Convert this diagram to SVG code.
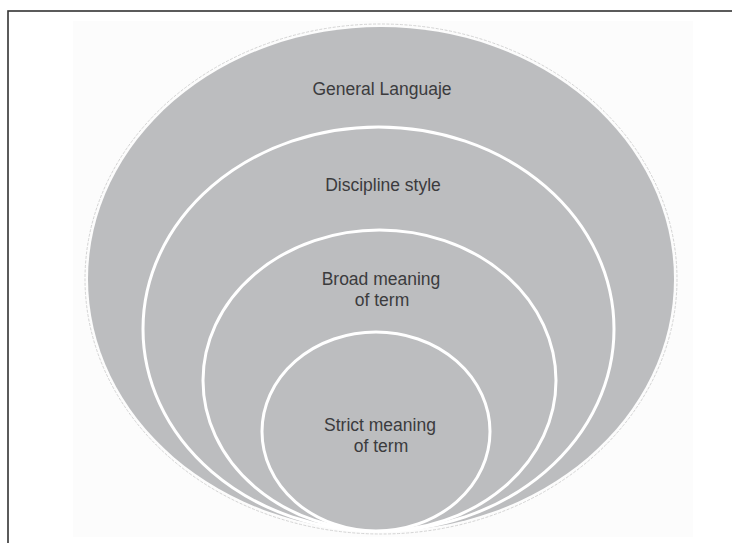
<svg xmlns="http://www.w3.org/2000/svg" width="732" height="543" viewBox="0 0 732 543">
  <style>
    .ring { fill: #bcbdbf; stroke: #ffffff; stroke-width: 3; }
    .outer { fill: #bcbdbf; stroke: none; }
    .halo { fill: none; stroke: #d4d4d4; stroke-width: 1; stroke-dasharray: 3 1.5; }
    .label { font-family: "Liberation Sans", Arial, sans-serif; font-size: 17.5px; fill: #3b3b3d; text-anchor: middle; }
  </style>
  <rect x="0" y="0" width="732" height="543" fill="#ffffff"/>
  <rect x="73" y="21" width="620" height="516" fill="#fcfcfc"/>
  <rect x="8" y="11" width="800" height="600" fill="none" stroke="#333333" stroke-width="1.6"/>

  <g id="general-language">
    <ellipse class="halo" cx="381" cy="279" rx="296" ry="255"/>
    <ellipse class="outer" cx="381" cy="279" rx="293" ry="252"/>
    <text class="label" x="382" y="95">General Languaje</text>
  </g>

  <g id="discipline-style">
    <ellipse class="ring" cx="378.5" cy="329" rx="235.5" ry="202"/>
    <text class="label" x="383" y="191">Discipline style</text>
  </g>

  <g id="broad-meaning">
    <ellipse class="ring" cx="379.5" cy="380.5" rx="176.5" ry="150.5"/>
    <text class="label" x="381" y="285">Broad meaning</text>
    <text class="label" x="382" y="306">of term</text>
  </g>

  <g id="strict-meaning">
    <ellipse class="ring" cx="376" cy="431.5" rx="114" ry="99.5"/>
    <text class="label" x="380" y="431">Strict meaning</text>
    <text class="label" x="381" y="452">of term</text>
  </g>
</svg>
